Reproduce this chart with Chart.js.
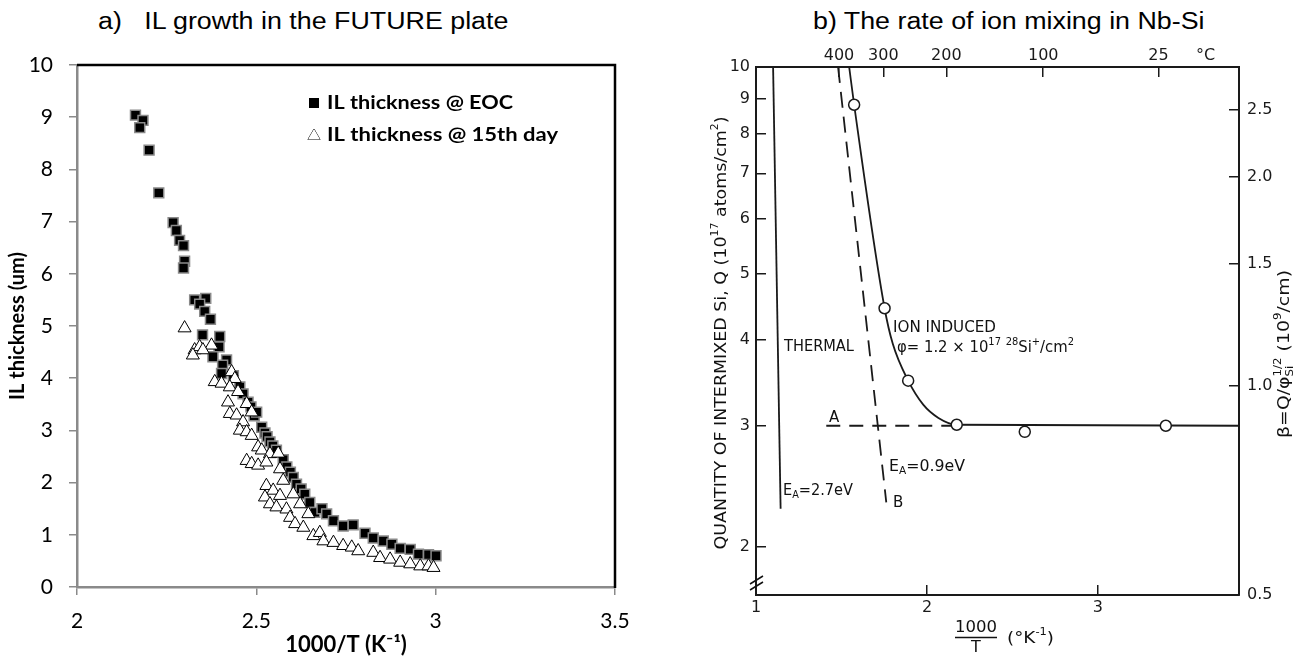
<!DOCTYPE html>
<html>
<head>
<meta charset="utf-8">
<script src="https://cdn.jsdelivr.net/npm/chart.js@4.4.0/dist/chart.umd.min.js"></script>
<style>
  body { margin: 0; background: #fff; width: 1307px; height: 660px; position: relative; overflow: hidden; }
  .title { position: absolute; top: 8px; font-family: 'Liberation Sans', Arial, sans-serif; font-size: 23px; white-space: pre; color: #000;
           transform: scaleX(1.166); transform-origin: 0 0; }
  canvas { position: absolute; top: 0; }
</style>
</head>
<body>
<div class="title" style="left:98px">a)   IL growth in the FUTURE plate</div>
<div class="title" style="left:813px">b) The rate of ion mixing in Nb-Si</div>
<canvas id="chartA" width="650" height="660" style="left:0"></canvas>
<canvas id="chartB" width="657" height="660" style="left:650px"></canvas>
<script>
// ---- panel a) IL thickness vs 1000/T ----
const eocX = [2.163, 2.184, 2.175, 2.201, 2.228, 2.268, 2.277, 2.286, 2.297, 2.300, 2.297, 2.328, 2.359, 2.342, 2.356, 2.372, 2.350, 2.398,
  2.396, 2.379, 2.417, 2.406, 2.403, 2.436, 2.454, 2.463, 2.477, 2.485, 2.494, 2.501, 2.515, 2.524, 2.530, 2.538, 2.546, 2.556, 2.575, 2.585,
  2.595, 2.603, 2.612, 2.625, 2.635, 2.649, 2.663, 2.683, 2.696, 2.715, 2.742, 2.770, 2.803, 2.826, 2.854, 2.878, 2.901, 2.929, 2.952, 2.980, 3.001];
const eocY = [9.04, 8.94, 8.80, 8.37, 7.55, 6.98, 6.83, 6.64, 6.54, 6.24, 6.11, 5.50, 5.53, 5.42, 5.28, 5.13, 4.83, 4.80,
  4.60, 4.41, 4.35, 4.25, 4.09, 4.05, 3.83, 3.70, 3.54, 3.45, 3.28, 3.35, 3.06, 2.95, 2.88, 2.78, 2.70, 2.62, 2.44, 2.30,
  2.20, 2.10, 1.97, 1.88, 1.78, 1.62, 1.43, 1.50, 1.40, 1.27, 1.17, 1.19, 1.03, 0.94, 0.88, 0.82, 0.74, 0.72, 0.63, 0.62, 0.60];

const day15X = [2.300, 2.328, 2.342, 2.375, 2.323, 2.351, 2.431, 2.440, 2.384, 2.403, 2.426, 2.449, 2.421, 2.473, 2.487, 2.426, 2.445, 2.463,
  2.454, 2.473, 2.487, 2.505, 2.515, 2.538, 2.561, 2.473, 2.487, 2.505, 2.528, 2.566, 2.575, 2.528, 2.547, 2.566, 2.603, 2.524, 2.538, 2.556,
  2.584, 2.622, 2.645, 2.594, 2.608, 2.631, 2.659, 2.677, 2.687, 2.715, 2.742, 2.766, 2.784, 2.826, 2.845, 2.873, 2.901, 2.929, 2.957, 2.980, 2.994];
const day15Y = [4.96, 4.54, 4.60, 4.63, 4.44, 4.54, 4.12, 3.99, 3.93, 3.90, 3.83, 3.74, 3.54, 3.51, 3.35, 3.32, 3.29, 3.16,
  3.00, 2.97, 2.90, 2.68, 2.62, 2.55, 2.56, 2.42, 2.36, 2.33, 2.39, 2.26, 2.04, 1.94, 1.85, 1.75, 1.78, 1.72, 1.59, 1.53,
  1.49, 1.59, 1.40, 1.33, 1.21, 1.14, 0.98, 1.04, 0.88, 0.85, 0.79, 0.76, 0.69, 0.66, 0.56, 0.53, 0.47, 0.44, 0.40, 0.40, 0.37];

// ---- panel b) ion mixing in Nb-Si ----
const invTTicks = [1, 2, 3];
const tempTicksC = [400, 300, 200, 100, 25];
const qTicks = [2, 3, 4, 5, 6, 7, 8, 9, 10];
const betaTicks = [0.5, 1.0, 1.5, 2.0, 2.5];

const measuredX = [1.574, 1.752, 1.890, 2.174, 2.572, 3.397];
const measuredQ = [8.81, 4.45, 3.49, 3.01, 2.94, 3.00];
const ionCurveX = [1.545, 1.574, 1.752, 1.800, 1.890, 1.978, 2.067, 2.174, 3.825];
const ionCurveQ = [10, 8.81, 4.45, 3.95, 3.49, 3.22, 3.08, 3.01, 3.0];
const lineAX = [1.411, 2.174];
const lineAQ = [3.0, 3.0];
const lineBX = [1.480, 1.762];
const lineBQ = [10, 2.32];
const thermalX = [1.100, 1.144];
const thermalQ = [10, 2.27];

const toPoints = (xs, ys) => xs.map((x, i) => ({ x: x, y: ys[i] }));

// text with small raised / lowered parts, optionally squeezed to a given width
function drawRich(ctx, parts, x, y, o) {
  const weight = o.weight ? o.weight + ' ' : '';
  const small = Math.round(o.size * 0.65);
  const measure = p => {
    if (typeof p === 'string') {
      ctx.font = weight + o.size + 'px ' + o.family;
      return ctx.measureText(p).width;
    }
    ctx.font = weight + small + 'px ' + o.family;
    return Math.max(...[p.sup, p.sub].filter(Boolean).map(t => ctx.measureText(t).width));
  };
  const total = parts.reduce((s, p) => s + measure(p), 0);
  const k = o.fit ? o.fit / total : 1;
  ctx.save();
  ctx.translate(x, y);
  ctx.scale(k, 1);
  ctx.textBaseline = 'middle';
  ctx.textAlign = 'left';
  let cx = o.align === 'center' ? -total / 2 : 0;
  parts.forEach(p => {
    const w = measure(p);
    if (typeof p === 'string') {
      ctx.fillText(p, cx, 0);
    } else {
      if (p.sup) ctx.fillText(p.sup, cx, -o.size * 0.4);
      if (p.sub) ctx.fillText(p.sub, cx, o.size * 0.32);
    }
    cx += w;
  });
  ctx.restore();
}

// black frame on top / right + legend for panel a
const frameA = {
  id: 'frameA',
  afterDraw(chart) {
    const { ctx, chartArea: a } = chart;
    ctx.save();
    ctx.strokeStyle = '#000';
    ctx.lineWidth = 2.5;
    ctx.beginPath();
    ctx.moveTo(a.left, a.top);
    ctx.lineTo(a.right, a.top);
    ctx.lineTo(a.right, a.bottom + 1);
    ctx.stroke();

    // legend
    ctx.fillStyle = '#000';
    ctx.fillRect(309, 98, 10, 10);
    ctx.lineWidth = 1;
    ctx.fillStyle = '#fff';
    Chart.helpers.drawPoint(ctx, { pointStyle: 'triangle', radius: 7, rotation: 0, borderWidth: 1 }, 314, 136);
    ctx.fill();
    ctx.fillStyle = '#000';
    const legendFont = { size: 19, family: 'Lato', weight: 'bold' };
    drawRich(ctx, ['IL thickness @ EOC'], 327, 103, Object.assign({ fit: 186 }, legendFont));
    drawRich(ctx, ['IL thickness @ 15th day'], 327, 135, Object.assign({ fit: 231 }, legendFont));
    ctx.restore();
  }
};

new Chart(document.getElementById('chartA'), {
  type: 'scatter',
  data: {
    datasets: [
      {
        label: 'IL thickness @ EOC',
        data: toPoints(eocX, eocY),
        pointStyle: 'rect',
        pointRadius: 7,
        backgroundColor: '#000',
        borderColor: '#8a8a8a',
        borderWidth: 1.5,
        order: 1
      },
      {
        label: 'IL thickness @ 15th day',
        data: toPoints(day15X, day15Y),
        pointStyle: 'triangle',
        pointRadius: 7.5,
        backgroundColor: '#fff',
        borderColor: '#000',
        borderWidth: 1,
        order: 0
      }
    ]
  },
  options: {
    responsive: false,
    animation: false,
    events: [],
    layout: { padding: { top: 65, right: 35, left: 0, bottom: 0 } },
    plugins: { legend: { display: false }, tooltip: { enabled: false } },
    scales: {
      x: {
        type: 'linear', min: 2, max: 3.5,
        ticks: { stepSize: 0.5, padding: 14, color: '#000', font: { family: 'Lato', size: 21 }, callback: v => String(v) },
        grid: { drawOnChartArea: false, color: '#8a8a8a', lineWidth: 1.5, tickLength: 8 },
        border: { color: '#8a8a8a', width: 2.5 },
        title: { display: true, text: '1000/T (K⁻¹)', color: '#000', font: { family: 'Lato', size: 22, weight: 'bold' }, padding: { top: 0, bottom: 2 } },
        afterFit: s => { s.height = 73; }
      },
      y: {
        min: 0, max: 10,
        ticks: { stepSize: 1, padding: 16, color: '#000', font: { family: 'Lato', size: 21 } },
        grid: { drawOnChartArea: false, color: '#8a8a8a', lineWidth: 1.5, tickLength: 8 },
        border: { color: '#8a8a8a', width: 2.5 },
        title: { display: true, text: 'IL thickness (um)', color: '#000', font: { family: 'Lato', size: 20, weight: 'bold' }, padding: { top: 6, bottom: 0 } },
        afterFit: s => { s.width = 77; }
      }
    }
  },
  plugins: [frameA]
});

// titles and notes for panel b
const notesB = {
  id: 'notesB',
  afterDraw(chart) {
    const { ctx } = chart;
    const f16 = { size: 16, family: '"DejaVu Sans"' };
    const f15 = { size: 15, family: '"DejaVu Sans"' };
    const w = (base, extra) => Object.assign({}, base, extra);
    ctx.save();
    ctx.fillStyle = '#111';
    // left axis title
    ctx.save();
    ctx.translate(72, 333);
    ctx.rotate(-Math.PI / 2);
    drawRich(ctx, ['QUANTITY OF INTERMIXED Si, Q (10', { sup: '17' }, ' atoms/cm', { sup: '2' }, ')'], 0, 0, w(f16, { fit: 433, align: 'center' }));
    ctx.restore();
    // right axis title
    ctx.save();
    ctx.translate(635, 354);
    ctx.rotate(-Math.PI / 2);
    drawRich(ctx, ['β=Q/φ', { sup: '1/2', sub: 'Si' }, ' (10', { sup: '9' }, '/cm)'], 0, 0, w(f16, { fit: 168, align: 'center' }));
    ctx.restore();
    // bottom axis title as a fraction
    drawRich(ctx, ['1000'], 326, 628, w(f16, { fit: 42, align: 'center' }));
    drawRich(ctx, ['T'], 326, 648, w(f16, { align: 'center' }));
    ctx.strokeStyle = '#111';
    ctx.lineWidth = 1.3;
    ctx.beginPath();
    ctx.moveTo(305, 637.5);
    ctx.lineTo(347, 637.5);
    ctx.stroke();
    drawRich(ctx, ['(°K', { sup: '-1' }, ')'], 357, 639, w(f16, { fit: 47 }));
    // notes inside the plot
    drawRich(ctx, ['THERMAL'], 134, 347, w(f15, { fit: 70 }));
    drawRich(ctx, ['ION INDUCED'], 243, 328, w(f15, { fit: 103 }));
    drawRich(ctx, ['φ= 1.2 × 10', { sup: '17' }, ' ', { sup: '28' }, 'Si', { sup: '+' }, '/cm', { sup: '2' }], 247, 348, w(f15, { fit: 177 }));
    drawRich(ctx, ['E', { sub: 'A' }, '=0.9eV'], 239, 467, w(f15, { fit: 76 }));
    drawRich(ctx, ['E', { sub: 'A' }, '=2.7eV'], 133, 491, w(f15, { fit: 70 }));
    drawRich(ctx, ['B'], 243, 503, f15);
    drawRich(ctx, ['A'], 179, 418, f15);
    // axis break marks
    ctx.lineWidth = 1.5;
    ctx.beginPath();
    ctx.moveTo(100, 584);
    ctx.lineTo(113, 576);
    ctx.moveTo(100, 590);
    ctx.lineTo(113, 582);
    ctx.stroke();
    ctx.restore();
  }
};

const tickFontB = { family: '"DejaVu Sans"', size: 16 };
const inkB = '#1a1a1a';

new Chart(document.getElementById('chartB'), {
  type: 'scatter',
  data: {
    datasets: [
      {
        label: 'measured',
        data: toPoints(measuredX, measuredQ),
        pointStyle: 'circle', pointRadius: 5.5,
        backgroundColor: '#fff', borderColor: inkB, borderWidth: 1.5
      },
      {
        label: 'ion induced',
        data: toPoints(ionCurveX, ionCurveQ),
        showLine: true, pointRadius: 0, borderColor: inkB, borderWidth: 1.8,
        cubicInterpolationMode: 'monotone'
      },
      {
        label: 'A',
        data: toPoints(lineAX, lineAQ),
        showLine: true, pointRadius: 0, borderColor: inkB, borderWidth: 1.8, borderDash: [14, 9]
      },
      {
        label: 'B',
        data: toPoints(lineBX, lineBQ),
        showLine: true, pointRadius: 0, borderColor: inkB, borderWidth: 1.8, borderDash: [16, 9]
      },
      {
        label: 'thermal',
        data: toPoints(thermalX, thermalQ),
        showLine: true, pointRadius: 0, borderColor: inkB, borderWidth: 1.8
      }
    ]
  },
  options: {
    responsive: false,
    animation: false,
    events: [],
    layout: { padding: 0 },
    plugins: { legend: { display: false }, tooltip: { enabled: false } },
    scales: {
      x: {
        type: 'linear', position: 'bottom', min: 1, max: 3.825,
        afterBuildTicks: s => { s.ticks = invTTicks.map(v => ({ value: v })); },
        ticks: { padding: 13, color: inkB, font: tickFontB, callback: v => String(v) },
        grid: { drawOnChartArea: false, color: inkB, lineWidth: 1.5, tickLength: -10 },
        border: { color: inkB, width: 2 },
        afterFit: s => { s.height = 65; }
      },
      x2: {
        type: 'linear', position: 'top', min: 1, max: 3.825,
        afterBuildTicks: s => {
          s.ticks = tempTicksC.map(t => ({ value: 1000 / (t + 273.15) })).concat([{ value: 3.63 }]);
        },
        ticks: {
          padding: 12, color: inkB, font: tickFontB,
          callback: (v, i) => (i < tempTicksC.length ? String(tempTicksC[i]) : '°C')
        },
        grid: {
          drawOnChartArea: false, lineWidth: 1.5, tickLength: -10,
          color: c => (c.index < tempTicksC.length ? inkB : 'rgba(0,0,0,0)')
        },
        border: { color: inkB, width: 2 },
        afterFit: s => { s.height = 67; }
      },
      y: {
        type: 'logarithmic', position: 'left', min: 1.72, max: 10,
        afterBuildTicks: s => { s.ticks = qTicks.map(v => ({ value: v })); },
        ticks: { padding: 16, color: inkB, font: tickFontB, callback: v => String(v) },
        grid: { drawOnChartArea: false, color: inkB, lineWidth: 1.5, tickLength: -10 },
        border: { color: inkB, width: 2 },
        afterFit: s => { s.width = 106; }
      },
      y2: {
        type: 'logarithmic', position: 'right', min: 0.5, max: 2.88,
        afterBuildTicks: s => { s.ticks = betaTicks.map(v => ({ value: v })); },
        ticks: { padding: 18, color: inkB, font: tickFontB, callback: v => v.toFixed(1) },
        grid: { drawOnChartArea: false, color: inkB, lineWidth: 1.5, tickLength: -10 },
        border: { color: inkB, width: 2 },
        afterFit: s => { s.width = 68; }
      }
    }
  },
  plugins: [notesB]
});
</script>
</body>
</html>
